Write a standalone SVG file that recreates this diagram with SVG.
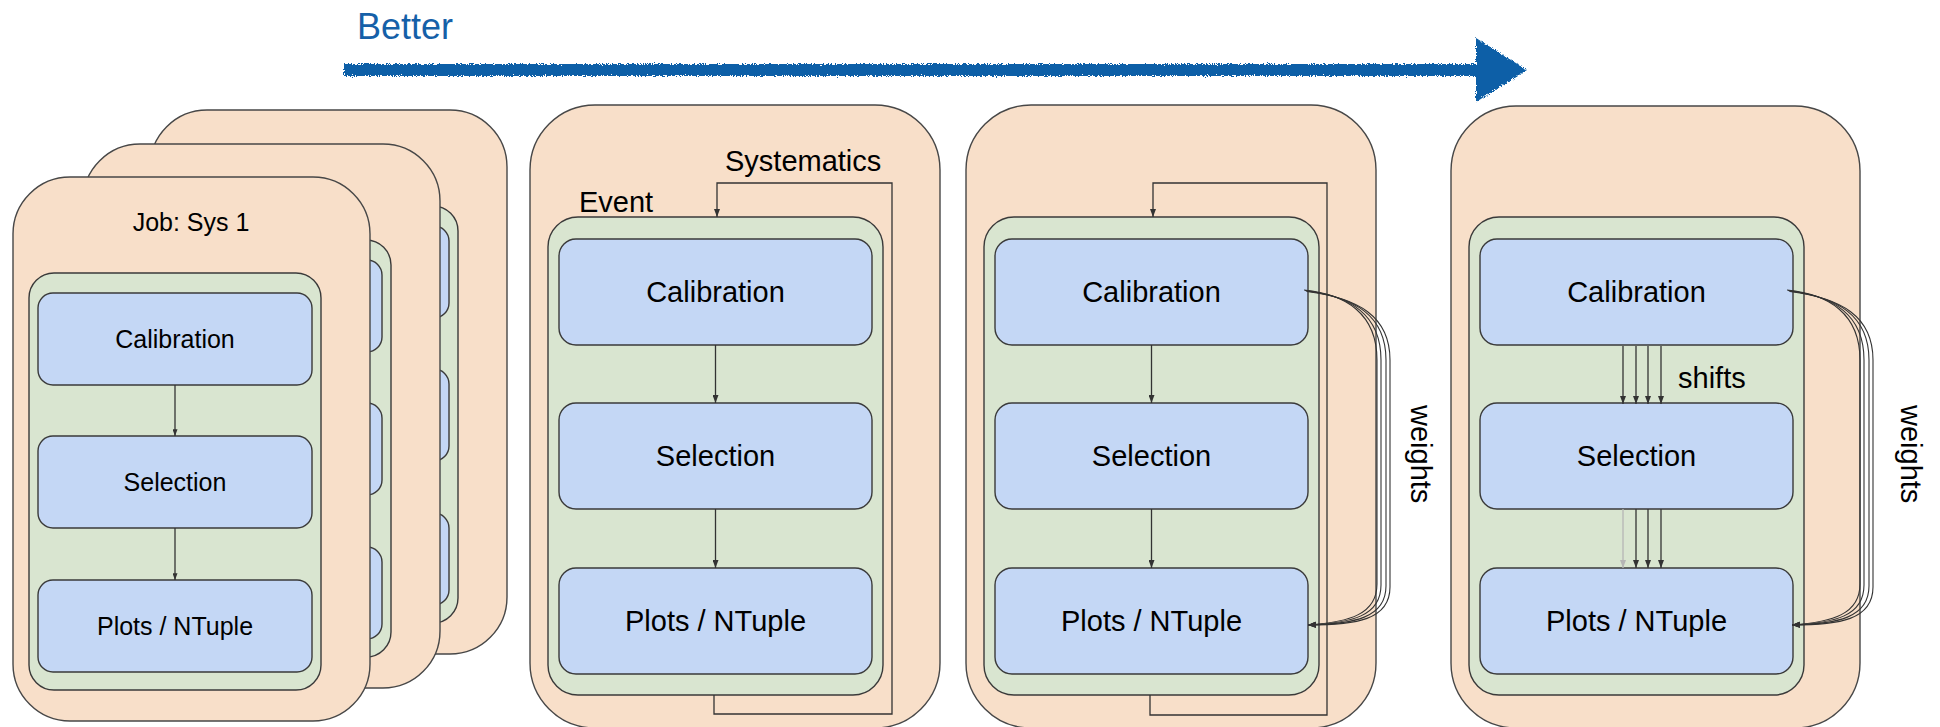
<svg xmlns="http://www.w3.org/2000/svg" width="1940" height="727" viewBox="0 0 1940 727">
<style>
.card{fill:#F8DFC9;stroke:#474747;stroke-width:1.4}
.grn{fill:#D9E5D0;stroke:#3a3a3a;stroke-width:1.4}
.blu{fill:#C4D7F5;stroke:#3a3a3a;stroke-width:1.4}
.t{font-family:"Liberation Sans",Arial,sans-serif;fill:#000}
.t29{font-size:29px}
.t25{font-size:25px}
.mid{text-anchor:middle}
.ln{fill:none;stroke:#333;stroke-width:1.3}
.lg{fill:none;stroke:#b5b5b5;stroke-width:1.3}
.wt{fill:none;stroke:#333;stroke-width:1.1}
</style>
<defs>
<marker id="ah" viewBox="0 0 8 6" refX="8" refY="3" markerWidth="8" markerHeight="6" markerUnits="userSpaceOnUse" orient="auto"><path d="M0,0 L8,3 L0,6 z" fill="#333"/></marker>
<marker id="ahg" viewBox="0 0 8 6" refX="8" refY="3" markerWidth="8" markerHeight="6" markerUnits="userSpaceOnUse" orient="auto"><path d="M0,0 L8,3 L0,6 z" fill="#b5b5b5"/></marker>
<marker id="ahs" viewBox="0 0 8 6" refX="8" refY="3" markerWidth="7" markerHeight="5" markerUnits="userSpaceOnUse" orient="auto"><path d="M0,0 L8,3 L0,6 z" fill="#333"/></marker>
<filter id="rough" x="-5%" y="-50%" width="110%" height="200%">
<feTurbulence type="fractalNoise" baseFrequency="0.9" numOctaves="2" seed="3" result="n"/>
<feDisplacementMap in="SourceGraphic" in2="n" scale="5" xChannelSelector="R" yChannelSelector="G"/>
</filter>
</defs>

<g id="better">
<text class="t" x="357" y="39" font-size="36" style="fill:#1560A8">Better</text>
<path d="M344,64 L1476,64 L1476,38 L1527,70 L1476,102 L1476,76 L344,76 z" fill="#0B5FA7" filter="url(#rough)"/>
</g>

<g id="panel1-job3">
<rect class="card" x="150" y="110" width="357" height="544" rx="57"/>
<rect class="grn" x="166" y="206" width="292" height="417" rx="25"/>
<rect class="blu" x="175" y="226" width="274" height="92" rx="15"/>
<rect class="blu" x="175" y="369" width="274" height="92" rx="15"/>
<rect class="blu" x="175" y="513" width="274" height="92" rx="15"/>
</g>
<g id="panel1-job2">
<rect class="card" x="83" y="144" width="357" height="544" rx="57"/>
<rect class="grn" x="99" y="240" width="292" height="417" rx="25"/>
<rect class="blu" x="108" y="260" width="274" height="92" rx="15"/>
<rect class="blu" x="108" y="403" width="274" height="92" rx="15"/>
<rect class="blu" x="108" y="547" width="274" height="92" rx="15"/>
</g>
<g id="panel1-job1">
<rect class="card" x="13" y="177" width="357" height="544" rx="57"/>
<text class="t t25 mid" x="191" y="231">Job: Sys 1</text>
<rect class="grn" x="29" y="273" width="292" height="417" rx="25"/>
</g>
<g id="p1-calibration"><rect class="blu" x="38" y="293" width="274" height="92" rx="15"/><text class="t t25 mid" x="175" y="348">Calibration</text></g>
<g id="p1-selection"><rect class="blu" x="38" y="436" width="274" height="92" rx="15"/><text class="t t25 mid" x="175" y="491">Selection</text></g>
<g id="p1-plots"><rect class="blu" x="38" y="580" width="274" height="92" rx="15"/><text class="t t25 mid" x="175" y="635">Plots / NTuple</text></g>

<g id="panel2">
<rect class="card" x="530" y="105" width="410" height="623" rx="65"/>
<text class="t t29" x="725" y="171">Systematics</text>
<text class="t t29" x="579" y="212">Event</text>
<rect class="grn" x="548" y="217" width="335" height="478" rx="30"/>
</g>
<g id="p2-calibration"><rect class="blu" x="559" y="239" width="313" height="106" rx="17"/><text class="t t29 mid" x="715.5" y="302">Calibration</text></g>
<g id="p2-selection"><rect class="blu" x="559" y="403" width="313" height="106" rx="17"/><text class="t t29 mid" x="715.5" y="466">Selection</text></g>
<g id="p2-plots"><rect class="blu" x="559" y="568" width="313" height="106" rx="17"/><text class="t t29 mid" x="715.5" y="631">Plots / NTuple</text></g>

<g id="panel3">
<rect class="card" x="966" y="105" width="410" height="623" rx="65"/>
<text class="t t29" transform="translate(1411,405) rotate(90)">weights</text>
<rect class="grn" x="984" y="217" width="335" height="478" rx="30"/>
</g>
<g id="p3-calibration"><rect class="blu" x="995" y="239" width="313" height="106" rx="17"/><text class="t t29 mid" x="1151.5" y="302">Calibration</text></g>
<g id="p3-selection"><rect class="blu" x="995" y="403" width="313" height="106" rx="17"/><text class="t t29 mid" x="1151.5" y="466">Selection</text></g>
<g id="p3-plots"><rect class="blu" x="995" y="568" width="313" height="106" rx="17"/><text class="t t29 mid" x="1151.5" y="631">Plots / NTuple</text></g>

<g id="panel4">
<rect class="card" x="1451" y="106" width="409" height="622" rx="65"/>
<text class="t t29" transform="translate(1901,405) rotate(90)">weights</text>
<rect class="grn" x="1469" y="217" width="335" height="478" rx="30"/>
<text class="t t29" x="1678" y="388">shifts</text>
</g>
<g id="p4-calibration"><rect class="blu" x="1480" y="239" width="313" height="106" rx="17"/><text class="t t29 mid" x="1636.5" y="302">Calibration</text></g>
<g id="p4-selection"><rect class="blu" x="1480" y="403" width="313" height="106" rx="17"/><text class="t t29 mid" x="1636.5" y="466">Selection</text></g>
<g id="p4-plots"><rect class="blu" x="1480" y="568" width="313" height="106" rx="17"/><text class="t t29 mid" x="1636.5" y="631">Plots / NTuple</text></g>

<g id="connectors">
<path class="ln" d="M175,385 L175,436" marker-end="url(#ahs)"/>
<path class="ln" d="M175,528 L175,580" marker-end="url(#ahs)"/>

<path class="ln" d="M715.5,345 L715.5,403" marker-end="url(#ah)"/>
<path class="ln" d="M715.5,509 L715.5,568" marker-end="url(#ah)"/>
<path class="ln" d="M714,695 L714,714 L892,714 L892,183 L717,183 L717,217" marker-end="url(#ah)"/>

<path class="ln" d="M1151.5,345 L1151.5,403" marker-end="url(#ah)"/>
<path class="ln" d="M1151.5,509 L1151.5,568" marker-end="url(#ah)"/>
<path class="ln" d="M1150,695 L1150,715 L1327,715 L1327,183 L1153,183 L1153,217" marker-end="url(#ah)"/>
<path class="wt" d="M1304,290 C1346,294 1377,314 1377,360 L1377,584 C1377,614 1350,622 1308,625" marker-end="url(#ah)"/>
<path class="wt" d="M1305,290.5 C1350,296 1381,314 1381,360 L1381,585 C1381,616 1352,623 1308,625" marker-end="url(#ah)"/>
<path class="wt" d="M1306,291 C1354,297 1386,315 1386,360 L1386,586 C1386,618 1354,624 1308,625" marker-end="url(#ah)"/>
<path class="wt" d="M1307,291.5 C1358,298 1390,316 1390,360 L1390,587 C1390,620 1356,625 1308,625" marker-end="url(#ah)"/>

<path class="ln" d="M1623,346 L1623,404" marker-end="url(#ah)"/>
<path class="ln" d="M1636,346 L1636,404" marker-end="url(#ah)"/>
<path class="ln" d="M1648,346 L1648,404" marker-end="url(#ah)"/>
<path class="ln" d="M1661,346 L1661,404" marker-end="url(#ah)"/>
<path class="lg" d="M1623,509 L1623,568" marker-end="url(#ahg)"/>
<path class="ln" d="M1636,509 L1636,568" marker-end="url(#ah)"/>
<path class="ln" d="M1648,509 L1648,568" marker-end="url(#ah)"/>
<path class="ln" d="M1661,509 L1661,568" marker-end="url(#ah)"/>
<path class="wt" d="M1787,290 C1829,294 1860,314 1860,360 L1860,584 C1860,614 1833,622 1792,625" marker-end="url(#ah)"/>
<path class="wt" d="M1788,290.5 C1833,296 1864,314 1864,360 L1864,585 C1864,616 1835,623 1792,625" marker-end="url(#ah)"/>
<path class="wt" d="M1789,291 C1837,297 1869,315 1869,360 L1869,586 C1869,618 1837,624 1792,625" marker-end="url(#ah)"/>
<path class="wt" d="M1790,291.5 C1841,298 1873,316 1873,360 L1873,587 C1873,620 1839,625 1792,625" marker-end="url(#ah)"/>
</g>
</svg>
